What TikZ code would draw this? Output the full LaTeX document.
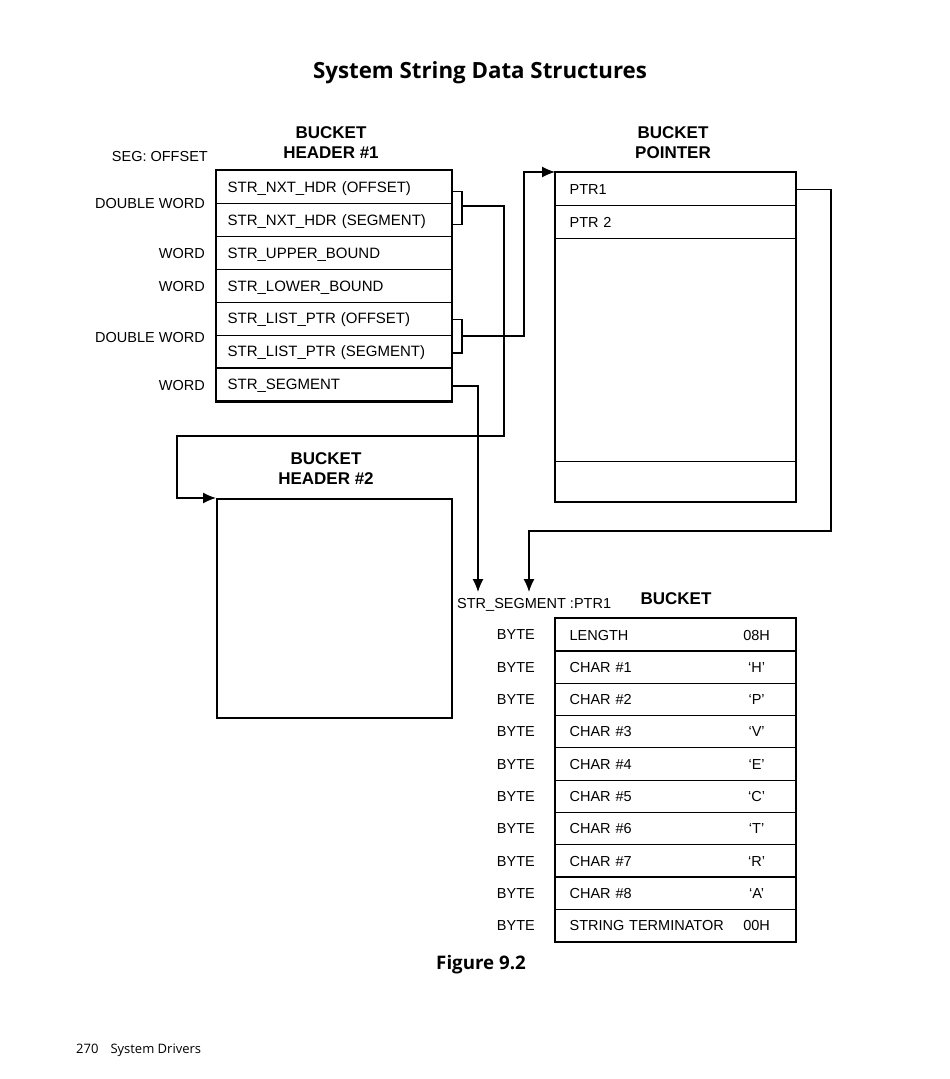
\documentclass[tikz,border=0pt]{standalone}
\usepackage{fontspec}
\setmainfont{Liberation Sans}
\newfontfamily\frutfont{Open Sans}
\usetikzlibrary{arrows.meta}

\begin{document}
\begin{tikzpicture}[x=1pt,y=-1pt]
        \tikzstyle{every node}=[inner sep=0pt, font=\fontsize{14.5}{17}\selectfont, text=black]
        \tikzstyle{cell}=[draw=black, line width=1.2pt, anchor=north west, minimum width=235pt, minimum height=32.9pt, inner xsep=11pt, text width=213pt, align=left, text height=10.6pt, text depth=0pt, font=\fontsize{15}{17}\selectfont]
        \tikzstyle{bcell}=[cell, minimum width=240pt, minimum height=32.3pt, inner xsep=14pt, text width=212pt, font=\fontsize{14.5}{17}\selectfont]
        \tikzstyle{size}=[anchor=east, text height=10.4pt, text depth=0pt]
        \tikzstyle{head}=[font=\bfseries\fontsize{17}{20}\selectfont, align=center]
        \tikzstyle{frame}=[draw=black, line width=2pt]
        \tikzstyle{link}=[black, line width=1.2pt]
        \tikzstyle{ptrarrow}=[link, -{Latex[length=13pt,width=11pt]}]

        \useasboundingbox (0,0) rectangle (950,1079);

        \node[font=\frutfont\bfseries\fontsize{22.3}{26}\selectfont] (title) at (480,73) {System String Data Structures};

        % bucket header #1
        \node[head] (hdronelbl) at (331,143) {BUCKET\\HEADER \#1};
        \node[size] (segoff) at (208,156) {SEG: OFFSET};
        \node[cell] (nxtoff)  at (216,170)   {STR\_NXT\_HDR (OFFSET)};
        \node[cell] (nxtseg)  at (216,202.9) {STR\_NXT\_HDR (SEGMENT)};
        \node[cell] (upper)   at (216,235.8) {STR\_UPPER\_BOUND};
        \node[cell] (lower)   at (216,268.7) {STR\_LOWER\_BOUND};
        \node[cell] (listoff) at (216,301.6) {STR\_LIST\_PTR (OFFSET)};
        \node[cell] (listseg) at (216,334.5) {STR\_LIST\_PTR (SEGMENT)};
        \node[cell] (strseg)  at (216,367.4) {STR\_SEGMENT};
        \draw[frame] (nxtoff.north west) rectangle (strseg.south east);

        \node[size] (dwone) at (205,203) {DOUBLE WORD};
        \node[size] (wdone) at (205,253) {WORD};
        \node[size] (wdtwo) at (205,286) {WORD};
        \node[size] (dwtwo) at (205,337) {DOUBLE WORD};
        \node[size] (wdthr) at (205,385) {WORD};

        % bucket pointer
        \node[head] (ptrlbl) at (673,143) {BUCKET\\POINTER};
        \node[bcell, minimum height=33pt] (ptra) at (555,172) {PTR1};
        \node[bcell, minimum height=33pt] (ptrb) at (555,205) {PTR 2};
        \node[bcell, minimum height=223pt] (ptrbody) at (555,238) {};
        \node[bcell, minimum height=40pt] (ptrlast) at (555,461) {};
        \draw[frame] (ptra.north west) rectangle (ptrlast.south east);

        % bucket header #2
        \node[head] (hdrtwolbl) at (326,468.5) {BUCKET\\HEADER \#2};
        \node[frame, anchor=north west, minimum width=235pt, minimum height=219pt] (hdrtwo) at (216,498) {};

        % bucket
        \node[size, anchor=west] (segptr) at (457,603) {STR\_SEGMENT :PTR1};
        \node[head] (bucketlbl) at (676,599) {BUCKET};
        \node[bcell] (blen)  at (555,618)   {LENGTH\hfill\makebox[50pt]{08H}};
        \node[bcell] (bca)   at (555,650.3) {CHAR \#1\hfill\makebox[50pt]{`H'}};
        \node[bcell] (bcb)   at (555,682.6) {CHAR \#2\hfill\makebox[50pt]{`P'}};
        \node[bcell] (bcc)   at (555,714.9) {CHAR \#3\hfill\makebox[50pt]{`V'}};
        \node[bcell] (bcd)   at (555,747.2) {CHAR \#4\hfill\makebox[50pt]{`E'}};
        \node[bcell] (bce)   at (555,779.5) {CHAR \#5\hfill\makebox[50pt]{`C'}};
        \node[bcell] (bcf)   at (555,811.8) {CHAR \#6\hfill\makebox[50pt]{`T'}};
        \node[bcell] (bcg)   at (555,844.1) {CHAR \#7\hfill\makebox[50pt]{`R'}};
        \node[bcell] (bch)   at (555,876.4) {CHAR \#8\hfill\makebox[50pt]{`A'}};
        \node[bcell] (bterm) at (555,908.7) {STRING TERMINATOR\hfill\makebox[50pt]{00H}};
        \draw[frame] (blen.north west) rectangle (bterm.south east);

        \node[size] (bytea) at (535,634.7) {BYTE};
        \node[size] (byteb) at (535,667.0) {BYTE};
        \node[size] (bytec) at (535,699.3) {BYTE};
        \node[size] (byted) at (535,731.6) {BYTE};
        \node[size] (bytee) at (535,763.9) {BYTE};
        \node[size] (bytef) at (535,796.2) {BYTE};
        \node[size] (byteg) at (535,828.5) {BYTE};
        \node[size] (byteh) at (535,860.8) {BYTE};
        \node[size] (bytei) at (535,893.1) {BYTE};
        \node[size] (bytej) at (535,925.4) {BYTE};

        % connectors
        \coordinate (brka) at (462,206);
        \coordinate (brkb) at (462,336);
        \coordinate (loopa) at (504,436);
        \coordinate (loopb) at (177,498);
        \coordinate (ptrbend) at (524,172);
        \coordinate (segtip) at (478,592);
        \coordinate (rgtbend) at (831,531);
        \coordinate (ptrtip) at (529,592);

        \draw[link] ([yshift=-4.5pt]nxtoff.east) -| (brka) |- ([yshift=-4.5pt]nxtseg.east);
        \draw[link] ([yshift=-0.5pt]listoff.east) -| (brkb) |- ([yshift=-1.5pt]listseg.east);
        \draw[ptrarrow] (brka) -| (loopa) -| (loopb) -- (hdrtwo.north west);
        \draw[ptrarrow] (brkb) -| (ptrbend) -- (ptra.north west);
        \draw[ptrarrow] ([yshift=-1.5pt]strseg.east) -| (segtip);
        \draw[ptrarrow] (ptra.east) -| (rgtbend) -| (ptrtip);

        \node[font=\frutfont\bfseries\fontsize{18.7}{22}\selectfont] (figcap) at (481,965) {Figure 9.2};
        \node[anchor=west, font=\frutfont\fontsize{13}{15}\selectfont] (footer) at (76,1050) {270\hspace{12pt}System Drivers};
\end{tikzpicture}
\end{document}
